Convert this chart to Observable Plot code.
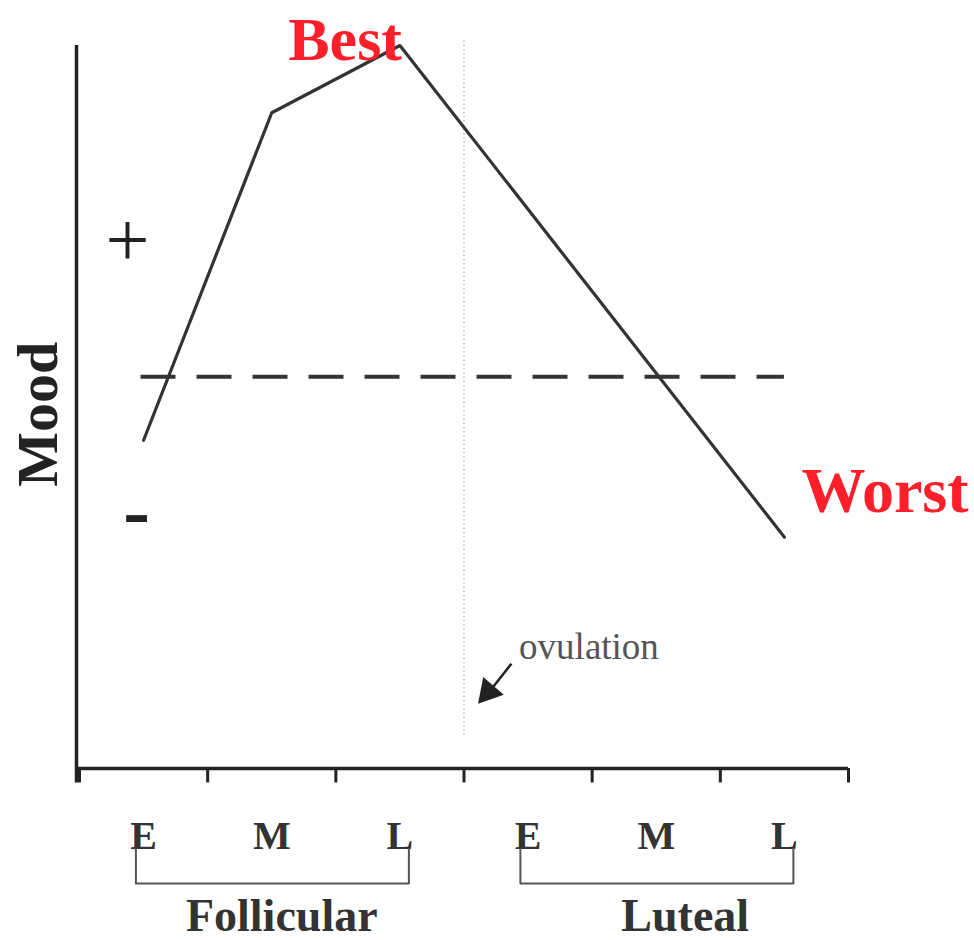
<!DOCTYPE html>
<html>
<head>
<meta charset="utf-8">
<script src="https://cdn.jsdelivr.net/npm/d3@7"></script>
<script src="https://cdn.jsdelivr.net/npm/@observablehq/plot@0.6"></script>
<style>
  html, body { margin: 0; padding: 0; background: #fff; }
  #chart svg { display: block; }
</style>
</head>
<body>
<div id="chart"></div>
<script>
// ---- data ----
const phaseLabels = ["E", "M", "L", "E", "M", "L"];
const phasePos = [0.5, 1.5, 2.5, 3.5, 4.5, 5.5];
const boundaries = [0, 1, 2, 3, 4, 5, 6];
const moodX = [0.5, 1.5, 2.5, 5.5];
const moodY = [45.4, 90.7, 100, 32.0];
const neutralMood = 54.2;
const ovulationX = 3;
const groupNames = ["Follicular", "Luteal"];
const groupStart = [0.5, 3.5];
const groupEnd = [2.5, 5.5];

const moodData = moodX.map((x, i) => ({x, y: moodY[i]}));
const serif = "'Liberation Serif', 'Times New Roman', serif";
const ink = "#333";

const brackets = groupNames.flatMap((g, i) => {
  const a = groupStart[i] - 0.06, b = groupEnd[i] + 0.07;
  return [
    {g, x: a, y: -11.1}, {g, x: a, y: -15.9},
    {g, x: b, y: -15.9}, {g, x: b, y: -11.1}
  ];
});

const chart = Plot.plot({
  width: 974,
  height: 940,
  marginTop: 45,
  marginBottom: 172,
  marginLeft: 79,
  marginRight: 126,
  x: {domain: [0, 6], axis: null},
  y: {domain: [0, 100], axis: null},
  style: {background: "#fff", fontFamily: serif},
  marks: [
    // y axis line
    Plot.ruleX([0], {y1: -2, y2: 100, dx: -3, stroke: "#222", strokeWidth: 3.5}),
    // x axis line + ticks
    Plot.ruleY([0], {x1: -0.02, x2: 6, stroke: "#222", strokeWidth: 3.5}),
    Plot.ruleX(boundaries, {x: d => d, y1: -2, y2: 0, stroke: "#222", strokeWidth: 3}),
    // ovulation dotted line
    Plot.ruleX([ovulationX], {y1: 4.6, y2: 100.7, stroke: "#999", strokeWidth: 1.2, strokeDasharray: "1.2,3"}),
    // neutral dashed line
    Plot.ruleY([neutralMood], {x1: moodX[0] - 0.02, x2: moodX[moodX.length - 1], stroke: ink, strokeWidth: 4, strokeDasharray: "35,21"}),
    // mood curve
    Plot.line(moodData, {x: "x", y: "y", stroke: ink, strokeWidth: 3.2, strokeLinejoin: "miter"}),
    // Best / Worst labels
    Plot.text([moodData[2]], {x: "x", y: "y", text: () => "Best", textAnchor: "end", lineAnchor: "bottom", dx: 2, dy: 14, fill: "#fe1f2a", fontSize: 62, fontWeight: "bold", fontFamily: serif}),
    Plot.text([moodData[3]], {x: "x", y: "y", text: () => "Worst", textAnchor: "start", lineAnchor: "bottom", dx: 17, dy: -25, fill: "#fe1f2a", fontSize: 64, fontWeight: "bold", fontFamily: serif}),
    // + and - signs
    Plot.text(["+"], {x: 0.375, y: 73.0, text: d => d, fontSize: 78, fill: "#222", fontFamily: serif}),
    Plot.text(["-"], {x: 0.445, y: 35.4, text: d => d, fontSize: 80, fontWeight: "bold", fill: "#222", fontFamily: serif}),
    // Mood axis title
    Plot.text(["Mood"], {frameAnchor: "left", y: 49, dx: -41, textAnchor: "middle", lineAnchor: "middle", text: d => d, rotate: -90, fontSize: 58, fontWeight: "bold", fill: "#222", fontFamily: serif}),
    // ovulation annotation
    Plot.text(["ovulation"], {x: 3.43, y: 15.2, text: d => d, textAnchor: "start", lineAnchor: "bottom", fontSize: 37, fill: "#555", fontFamily: serif}),
    Plot.link([{x1: 3.37, y1: 14.5, x2: 3.17, y2: 10.0}], {x1: "x1", y1: "y1", x2: "x2", y2: "y2", stroke: "#222", strokeWidth: 2.5}),
    Plot.dot([{x: 3.19, y: 10.6}], {x: "x", y: "y", symbol: "triangle2", r: 13, fill: "#222", rotate: 221}),
    // phase tick labels
    Plot.text(phasePos, {x: d => d, frameAnchor: "bottom", dy: 80, lineAnchor: "bottom", text: (d, i) => phaseLabels[i], fontSize: 40, fontWeight: "bold", fill: "#333", fontFamily: serif}),
    // brackets
    Plot.line(brackets, {x: "x", y: "y", z: "g", stroke: "#555", strokeWidth: 2}),
    // group labels
    Plot.text([groupNames[0]], {x: (groupStart[0] + groupEnd[0]) / 2, frameAnchor: "bottom", dx: 10, dy: 162, lineAnchor: "bottom", text: d => d, fontSize: 46, fontWeight: "bold", fill: "#333", fontFamily: serif}),
    Plot.text([groupNames[1]], {x: (groupStart[1] + groupEnd[1]) / 2, frameAnchor: "bottom", dx: 29, dy: 162, lineAnchor: "bottom", text: d => d, fontSize: 46, fontWeight: "bold", fill: "#333", fontFamily: serif})
  ]
});
document.getElementById("chart").append(chart);
</script>
</body>
</html>
